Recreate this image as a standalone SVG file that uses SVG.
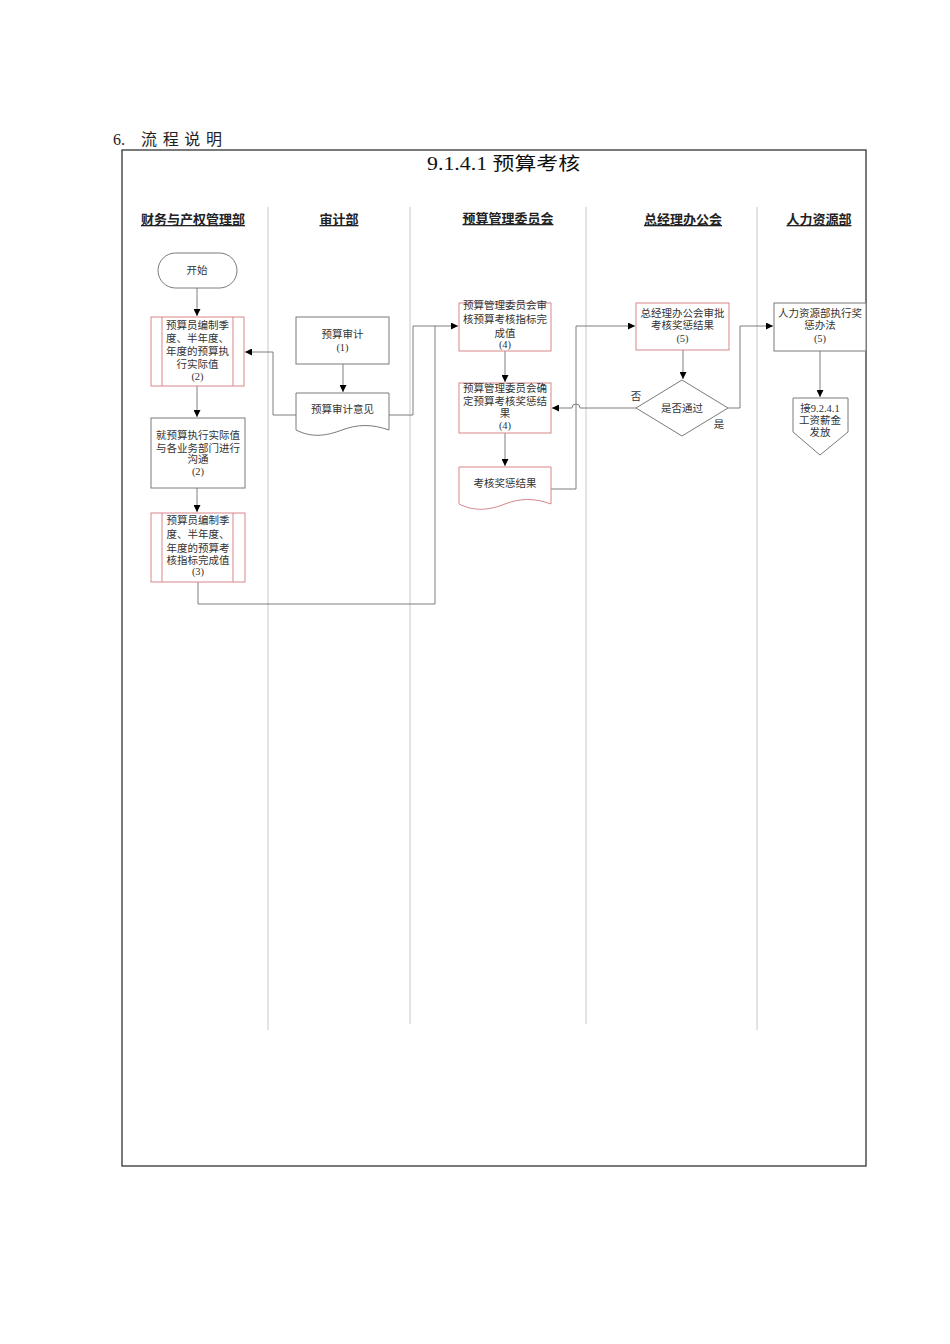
<svg xmlns="http://www.w3.org/2000/svg" width="950" height="1344" viewBox="0 0 950 1344">
<defs>
<marker id="arr" viewBox="0 0 10 10" refX="10" refY="5" markerWidth="7" markerHeight="7" markerUnits="userSpaceOnUse" orient="auto">
<path d="M0,0 L10,5 L0,10 Z" fill="#000"/>
</marker>
<style>
.t{font-family:"Liberation Serif","Noto Sans CJK SC",serif;fill:#333;font-size:10.5px;text-anchor:middle}
.h{font-family:"Liberation Serif","Noto Sans CJK SC",serif;fill:#222;font-size:13px;font-weight:bold;text-anchor:middle;text-decoration:underline}
.red{fill:#fff;stroke:#d9868a;stroke-width:1}
.gray{fill:#fff;stroke:#7a7a7a;stroke-width:1}
.c{fill:none;stroke:#707070;stroke-width:0.9}
.lane{stroke:#c8c8c8;stroke-width:1}
</style>
</defs>
<rect width="950" height="1344" fill="#fff"/>
<text x="113" y="145" font-family="'Liberation Serif','Noto Sans CJK SC',serif" font-size="16" fill="#222">6.</text>
<text x="141" y="145" font-family="'Liberation Serif','Noto Sans CJK SC',serif" font-size="16" fill="#222" textLength="81" lengthAdjust="spacing">流程说明</text>
<rect x="122" y="150" width="744" height="1016" fill="none" stroke="#333" stroke-width="1.3"/>
<text x="427" y="170" font-family="'Liberation Serif','Noto Sans CJK SC',serif" font-size="18" fill="#111" textLength="153" lengthAdjust="spacingAndGlyphs">9.1.4.1 预算考核</text>
<g id="lanes">
<line class="lane" x1="268" y1="207" x2="268" y2="1030"/>
<line class="lane" x1="410" y1="207" x2="410" y2="1024"/>
<line class="lane" x1="586" y1="207" x2="586" y2="1024"/>
<line class="lane" x1="757" y1="207" x2="757" y2="1030"/>
<text class="h" x="193" y="224">财务与产权管理部</text>
<text class="h" x="339" y="224">审计部</text>
<text class="h" x="508" y="223">预算管理委员会</text>
<text class="h" x="683" y="224">总经理办公会</text>
<text class="h" x="819" y="224">人力资源部</text>
</g>
<g id="connectors">
<path class="c" d="M197,288 V316" marker-end="url(#arr)"/>
<path class="c" d="M197,386 V417" marker-end="url(#arr)"/>
<path class="c" d="M197,488 V512" marker-end="url(#arr)"/>
<path class="c" d="M343,364 V392" marker-end="url(#arr)"/>
<path class="c" d="M296,415 H273 V352 H245" marker-end="url(#arr)"/>
<path class="c" d="M389,415 H413 V326 H458" marker-end="url(#arr)"/>
<path class="c" d="M198,582 V604 H435 V326"/>
<path class="c" d="M505,351 V382" marker-end="url(#arr)"/>
<path class="c" d="M505,433 V466" marker-end="url(#arr)"/>
<path class="c" d="M551,489 H576 V326 H635" marker-end="url(#arr)"/>
<path class="c" d="M683,350 V379" marker-end="url(#arr)"/>
<path class="c" d="M636,408 H580 A4,4 0 0 0 572,408 H552" marker-end="url(#arr)"/>
<path class="c" d="M728,408 H740 V326 H773" marker-end="url(#arr)"/>
<path class="c" d="M820,351 V397" marker-end="url(#arr)"/>
<text class="t" x="636" y="400">否</text>
<text class="t" x="719" y="428">是</text>
</g>
<g id="start">
<rect class="gray" x="158" y="253" width="79" height="35" rx="17.5"/>
<text class="t" x="197" y="274">开始</text>
</g>
<g id="n1">
<rect class="red" x="151" y="317" width="93" height="69"/>
<line class="red" x1="162" y1="317" x2="162" y2="386"/>
<line class="red" x1="233" y1="317" x2="233" y2="386"/>
<text class="t" x="197.5" y="329">预算员编制季</text>
<text class="t" x="197.5" y="342">度、半年度、</text>
<text class="t" x="197.5" y="355">年度的预算执</text>
<text class="t" x="197.5" y="368">行实际值</text>
<text class="t" x="197.5" y="380">(2)</text>
</g>
<g id="n2">
<rect class="gray" x="151" y="418" width="94" height="70"/>
<text class="t" x="198" y="439">就预算执行实际值</text>
<text class="t" x="198" y="452">与各业务部门进行</text>
<text class="t" x="198" y="463">沟通</text>
<text class="t" x="198" y="475">(2)</text>
</g>
<g id="n3">
<rect class="red" x="151" y="513" width="94" height="69"/>
<line class="red" x1="162" y1="513" x2="162" y2="582"/>
<line class="red" x1="233" y1="513" x2="233" y2="582"/>
<text class="t" x="198" y="524">预算员编制季</text>
<text class="t" x="198" y="538">度、半年度、</text>
<text class="t" x="198" y="552">年度的预算考</text>
<text class="t" x="198" y="564">核指标完成值</text>
<text class="t" x="198" y="575">(3)</text>
</g>
<g id="a1">
<rect class="gray" x="296" y="317" width="93" height="47"/>
<text class="t" x="342.5" y="338">预算审计</text>
<text class="t" x="342.5" y="351">(1)</text>
</g>
<g id="a2">
<path class="gray" d="M296,393 H389 V430 C372,424 358,424 342,430 C326,436 312,438 296,430 Z"/>
<text class="t" x="342.5" y="413">预算审计意见</text>
</g>
<g id="b1">
<rect class="red" x="459" y="303" width="92" height="48"/>
<text class="t" x="505" y="309">预算管理委员会审</text>
<text class="t" x="505" y="323">核预算考核指标完</text>
<text class="t" x="505" y="337">成值</text>
<text class="t" x="505" y="348">(4)</text>
</g>
<g id="b2">
<rect class="red" x="459" y="383" width="92" height="50"/>
<text class="t" x="505" y="392">预算管理委员会确</text>
<text class="t" x="505" y="405">定预算考核奖惩结</text>
<text class="t" x="505" y="417">果</text>
<text class="t" x="505" y="429">(4)</text>
</g>
<g id="b3">
<path class="red" d="M459,467 H551 V504 C535,498 520,498 505,504 C490,510 475,512 459,504 Z"/>
<text class="t" x="505" y="487">考核奖惩结果</text>
</g>
<g id="c1">
<rect class="red" x="636" y="303" width="93" height="47"/>
<text class="t" x="682.5" y="317">总经理办公会审批</text>
<text class="t" x="682.5" y="329">考核奖惩结果</text>
<text class="t" x="682.5" y="342">(5)</text>
</g>
<g id="c2">
<path class="gray" d="M636,408 L682,380 L728,408 L682,436 Z"/>
<text class="t" x="682" y="412">是否通过</text>
</g>
<g id="d1">
<rect class="gray" x="774" y="303" width="92" height="48"/>
<text class="t" x="820" y="317">人力资源部执行奖</text>
<text class="t" x="820" y="329">惩办法</text>
<text class="t" x="820" y="342">(5)</text>
</g>
<g id="d2">
<path class="gray" d="M793,398 H848 V432 L820,455 L793,432 Z"/>
<text class="t" x="820" y="412">接9.2.4.1</text>
<text class="t" x="820" y="424">工资薪金</text>
<text class="t" x="820" y="436">发放</text>
</g>
</svg>
